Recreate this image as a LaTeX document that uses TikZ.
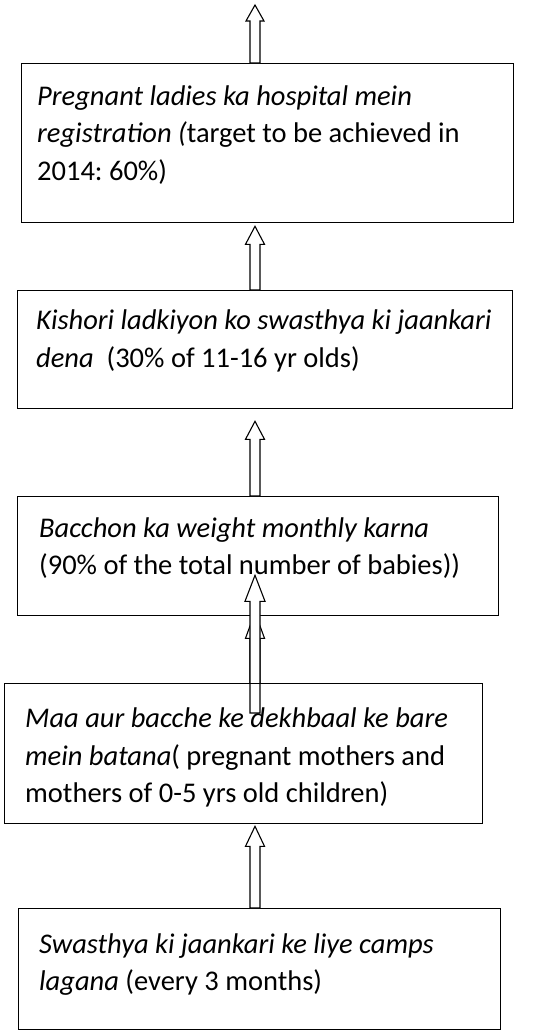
\documentclass[tikz,border=0pt]{standalone}
\usepackage{fontspec}
\setmainfont{Carlito}
\frenchspacing
\usetikzlibrary{calc}
\tikzset{
  box/.style={draw=black, line width=1.3pt, rectangle, inner sep=0pt, anchor=north west},
  whitebox/.style={box, fill=white},
  txt/.style={anchor=north west, inner sep=0pt, align=left, font=\fontsize{28.5}{37.5}\selectfont},
  barrow/.style={draw=black, fill=white, line width=1.1pt, line join=miter}
}
\newcommand\blkarrow[4]{% bottom, tip, head length, head half width
  \draw[barrow] ($(#1)+(-5,0)$) -- ($(#2)+(-5,#3)$) -- ($(#2)+(-#4,#3)$) -- (#2)
    -- ($(#2)+(#4,#3)$) -- ($(#2)+(5,#3)$) -- ($(#1)+(5,0)$) -- cycle;}
\begin{document}
\begin{tikzpicture}[x=1pt,y=-1pt]
\useasboundingbox (0,0) rectangle (540,1036);
\fill[white] (0,0) rectangle (540,1036);
% boxes
\node[whitebox, minimum width=492pt, minimum height=159pt] (b1) at (21,63) {};
\node[whitebox, minimum width=495pt, minimum height=118pt] (b2) at (17,290) {};
\node[whitebox, minimum width=481pt, minimum height=119pt] (b3) at (17,496) {};
\node[whitebox, minimum width=482pt, minimum height=121pt] (b5) at (18,908) {};
% texts
\node[txt] (t1) at ($(b1.north west)+(16,16)$) {\strut\textit{Pregnant ladies ka hospital mein}\\\textit{registration (}target to be achieved in\\2014: 60\%)};
\node[txt] (t2) at ($(b2.north west)+(19,13.5)$) {\strut\textit{Kishori ladkiyon ko swasthya ki jaankari}\\\textit{dena}\ \ (30\% of 11-16 yr olds)};
\node[txt] (t3) at ($(b3.north west)+(22,14.75)$) {\strut\textit{Bacchon ka weight monthly karna}\\(90\% of the total number of babies))};
\node[txt] (t5) at ($(b5.north west)+(21,19)$) {\strut\textit{Swasthya ki jaankari ke liye camps}\\\textit{lagana} (every 3 months)};
% arrow axis and end points
\coordinate (ax) at (255,0);
\coordinate (a0t) at (255,5);
\coordinate (a0s) at (ax |- b1.north);
\coordinate (a1t) at ($(ax |- b1.south)+(0,3)$);
\coordinate (a1s) at (ax |- b2.north);
\coordinate (a2t) at ($(ax |- b2.south)+(0,12)$);
\coordinate (a2s) at (ax |- b3.north);
\coordinate (a3bt) at ($(ax |- b3.south)+(0,-4)$);
\coordinate (a3bs) at (255,683);
\coordinate (a3at) at ($(ax |- b3.south)+(0,-41)$);
\coordinate (a3as) at (255,713);
\coordinate (a4s) at (ax |- b5.north);
% arrows
\blkarrow{a0s}{a0t}{16}{9}
\blkarrow{a1s}{a1t}{18}{9.5}
\blkarrow{a2s}{a2t}{18}{9.5}
\blkarrow{a3bs}{a3bt}{26}{9.5}
\blkarrow{a3as}{a3at}{26}{10}
% box 4 drawn over the overlapping arrow, unfilled
\node[box, minimum width=478pt, minimum height=140pt] (b4) at (4,683) {};
\coordinate (a4t) at ($(ax |- b4.south)+(0,2)$);
\blkarrow{a4s}{a4t}{20}{9.5}
\node[txt] (t4) at ($(b4.north west)+(21,18.5)$) {\strut\textit{Maa aur bacche ke dekhbaal ke bare}\\\textit{mein batana}( pregnant mothers and\\mothers of 0-5 yrs old children)};
\end{tikzpicture}
\end{document}
